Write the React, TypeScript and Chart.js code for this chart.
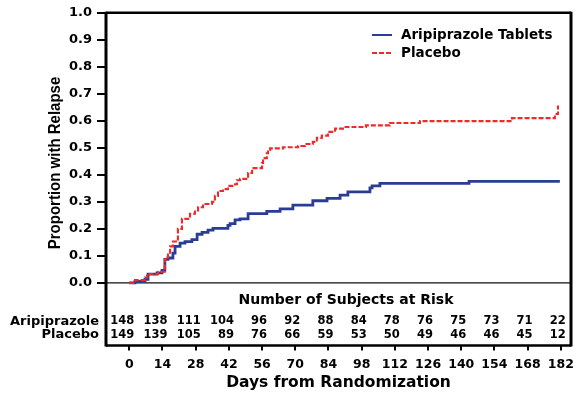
import React, { useEffect, useRef } from 'react';
import { Chart, registerables } from 'chart.js';

Chart.register(...registerables);

// ---- data ----
const DAY_TICKS = [0, 14, 28, 42, 56, 70, 84, 98, 112, 126, 140, 154, 168, 182];
const Y_TICKS = [0, 0.1, 0.2, 0.3, 0.4, 0.5, 0.6, 0.7, 0.8, 0.9, 1.0];
const SERIES_LABELS = ['Aripiprazole Tablets', 'Placebo'];
const RISK_TITLE = 'Number of Subjects at Risk';
const RISK_ROW_LABELS = ['Aripiprazole', 'Placebo'];
const ARIP_RISK = [148, 138, 111, 104, 96, 92, 88, 84, 78, 76, 75, 73, 71, 22];
const PLAC_RISK = [149, 139, 105, 89, 76, 66, 59, 53, 50, 49, 46, 46, 45, 12];
const X_TITLE = 'Days from Randomization';
const Y_TITLE = 'Proportion with Relapse';

const ARIP_DAYS = [0, 2.4, 6.6, 7.9, 11.7, 13.8, 15.0, 16.3, 18.4, 19.3, 21.4, 23.5, 26.4, 28.6, 30.7, 33.2, 35.3, 41.6, 42.5, 44.6, 46.7, 50.1, 58.0, 63.6, 69.0, 77.4, 83.4, 88.9, 92.2, 101.5, 102.4, 105.7, 143.3, 181.6];
const ARIP_VALUES = [0, 0.005, 0.013, 0.032, 0.037, 0.046, 0.087, 0.092, 0.11, 0.135, 0.147, 0.153, 0.16, 0.18, 0.187, 0.195, 0.202, 0.213, 0.219, 0.233, 0.237, 0.256, 0.265, 0.274, 0.288, 0.304, 0.313, 0.325, 0.337, 0.352, 0.359, 0.368, 0.376, 0.376];

const PLAC_DAYS = [0, 2.4, 6.6, 7.5, 12.1, 15.0, 16.3, 17.2, 18.4, 20.5, 22.2, 25.6, 27.7, 29.0, 31.1, 34.9, 36.1, 37.4, 39.5, 41.6, 44.6, 45.4, 46.7, 50.1, 51.8, 56.0, 56.4, 58.0, 58.5, 59.4, 64.8, 71.2, 74.1, 77.4, 79.1, 81.2, 83.8, 86.8, 90.1, 99.8, 109.9, 122.6, 161.4, 179.5, 180.8];
const PLAC_VALUES = [0, 0.01, 0.02, 0.033, 0.041, 0.087, 0.105, 0.135, 0.153, 0.2, 0.237, 0.256, 0.268, 0.28, 0.292, 0.3, 0.322, 0.34, 0.347, 0.359, 0.365, 0.38, 0.385, 0.407, 0.425, 0.444, 0.462, 0.48, 0.492, 0.498, 0.502, 0.507, 0.514, 0.522, 0.537, 0.545, 0.559, 0.571, 0.577, 0.583, 0.592, 0.599, 0.61, 0.625, 0.657];

const BLUE = '#2A3C96';
const RED = '#EE2A2A';
const WIDE = 'DejaVu Sans';
const NARROW = '"Liberation Sans", Arial, sans-serif';

const overlay = {
  id: 'overlay',
  beforeDatasetsDraw(chart: any) {
    const { ctx, chartArea: a, scales } = chart;
    const y0 = scales.y.getPixelForValue(0);
    ctx.save();
    ctx.strokeStyle = '#111';
    ctx.lineWidth = 1.3;
    ctx.beginPath();
    ctx.moveTo(a.left, y0);
    ctx.lineTo(a.right, y0);
    ctx.stroke();
    ctx.restore();
  },
  afterDraw(chart: any) {
    const { ctx, chartArea: a, scales } = chart;
    const x = scales.x;
    ctx.save();
    // box
    ctx.strokeStyle = '#000';
    ctx.lineWidth = 3;
    ctx.beginPath();
    ctx.moveTo(a.left, a.top - 1);
    ctx.lineTo(a.left, a.bottom + 1);
    ctx.moveTo(a.right, a.top - 1);
    ctx.lineTo(a.right, a.bottom + 1);
    ctx.stroke();
    ctx.lineWidth = 2.5;
    ctx.beginPath();
    ctx.moveTo(a.left, a.top);
    ctx.lineTo(a.right, a.top);
    ctx.moveTo(a.left, a.bottom);
    ctx.lineTo(a.right, a.bottom);
    ctx.stroke();

    // legend
    const lx0 = 372, lx1 = 392, tx = 401;
    const ly = [35, 53];
    ctx.lineWidth = 2;
    ctx.strokeStyle = BLUE;
    ctx.beginPath();
    ctx.moveTo(lx0, ly[0]);
    ctx.lineTo(lx1, ly[0]);
    ctx.stroke();
    ctx.strokeStyle = RED;
    ctx.setLineDash([5, 2]);
    ctx.beginPath();
    ctx.moveTo(lx0, ly[1]);
    ctx.lineTo(lx1, ly[1]);
    ctx.stroke();
    ctx.setLineDash([]);
    ctx.fillStyle = '#000';
    ctx.font = `bold 13.5px ${WIDE}`;
    ctx.textBaseline = 'middle';
    ctx.textAlign = 'left';
    ctx.fillText(SERIES_LABELS[0], tx, ly[0]);
    ctx.fillText(SERIES_LABELS[1], tx, ly[1]);

    // risk table
    ctx.font = `bold 14px ${WIDE}`;
    ctx.textAlign = 'center';
    ctx.fillText(RISK_TITLE, 346, 300);
    const rowY = [321.5, 335];
    ctx.font = `bold 11.5px ${WIDE}`;
    ctx.textAlign = 'right';
    DAY_TICKS.forEach((d, i) => {
      const px = x.getPixelForValue(d) + 5;
      ctx.fillText(String(ARIP_RISK[i]), px, rowY[0]);
      ctx.fillText(String(PLAC_RISK[i]), px, rowY[1]);
    });
    ctx.font = `bold 13px ${WIDE}`;
    ctx.fillText(RISK_ROW_LABELS[0], 99, rowY[0]);
    ctx.fillText(RISK_ROW_LABELS[1], 99, rowY[1]);

    // y title
    ctx.translate(60, 163);
    ctx.rotate(-Math.PI / 2);
    ctx.scale(1, 1.12);
    ctx.font = `bold 15px ${NARROW}`;
    ctx.textAlign = 'center';
    ctx.textBaseline = 'alphabetic';
    ctx.fillText(Y_TITLE, 0, 0);
    ctx.restore();
  },
};

export default function App() {
  const ref = useRef<HTMLCanvasElement | null>(null);
  useEffect(() => {
    if (!ref.current) return;
    const chart = new Chart(ref.current, {
      type: 'line',
      data: {
        datasets: [
          {
            label: SERIES_LABELS[0],
            data: ARIP_DAYS.map((d, i) => ({ x: d, y: ARIP_VALUES[i] })),
            borderColor: BLUE,
            borderWidth: 2.8,
            stepped: 'before',
            pointRadius: 0,
            fill: false,
            order: 1,
          },
          {
            label: SERIES_LABELS[1],
            data: PLAC_DAYS.map((d, i) => ({ x: d, y: PLAC_VALUES[i] })),
            borderColor: RED,
            borderWidth: 2.1,
            borderDash: [5, 2],
            stepped: 'before',
            pointRadius: 0,
            fill: false,
            order: 0,
          },
        ],
      },
      options: {
        animation: false,
        responsive: false,
        devicePixelRatio: 1,
        layout: { padding: { top: 6.5, right: 11, left: 0, bottom: 0 } },
        plugins: { legend: { display: false }, tooltip: { enabled: false } },
        scales: {
          x: {
            type: 'linear',
            min: -9.83,
            max: 186.3,
            afterBuildTicks: (s: any) => { s.ticks = DAY_TICKS.map((v) => ({ value: v })); },
            afterFit: (s: any) => { s.height = 49.5; },
            grid: { drawOnChartArea: false, drawTicks: true, tickLength: 5, color: '#000', lineWidth: 2 },
            border: { display: false },
            ticks: {
              autoSkip: false,
              maxRotation: 0,
              padding: 6.5,
              color: '#000',
              font: { family: WIDE, weight: 'bold', size: 12.5 },
              callback: (v: any) => String(v),
            },
            title: {
              display: true,
              text: X_TITLE,
              color: '#000',
              font: { family: WIDE, weight: 'bold', size: 15.5 },
              padding: { top: 0, bottom: 3 },
            },
          },
          y: {
            type: 'linear',
            min: -0.232,
            max: 1.0,
            afterBuildTicks: (s: any) => { s.ticks = Y_TICKS.map((v) => ({ value: v })); },
            afterFit: (s: any) => { s.width = 106; },
            grid: { drawOnChartArea: false, drawTicks: true, tickLength: 9, color: '#000', lineWidth: 2 },
            border: { display: false },
            ticks: {
              padding: 5,
              color: '#000',
              font: { family: WIDE, weight: 'bold', size: 13 },
              callback: (v: any) => Number(v).toFixed(1),
            },
          },
        },
      },
      plugins: [overlay],
    } as any);
    return () => chart.destroy();
  }, []);
  return (
    <div style={{ position: 'fixed', left: 0, top: 0, width: 582, height: 395, background: '#fff' }}>
      <canvas ref={ref} width={582} height={395} style={{ width: 582, height: 395, display: 'block' }} />
    </div>
  );
}
